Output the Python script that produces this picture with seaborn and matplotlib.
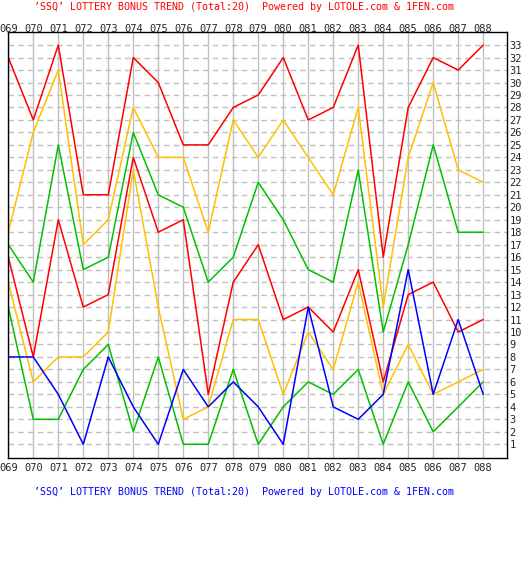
import numpy as np
import pandas as pd
import matplotlib
matplotlib.use("Agg")
import matplotlib.pyplot as plt
import seaborn as sns

# draw numbers 069..088
issues = ["069", "070", "071", "072", "073", "074", "075", "076", "077", "078",
          "079", "080", "081", "082", "083", "084", "085", "086", "087", "088"]

# red balls sorted small -> large, plus the blue ball
red1 = [12, 3, 3, 7, 9, 2, 8, 1, 1, 7, 1, 4, 6, 5, 7, 1, 6, 2, 4, 6]
red2 = [14, 6, 8, 8, 10, 23, 12, 3, 4, 11, 11, 5, 10, 7, 14, 5, 9, 5, 6, 7]
red3 = [16, 8, 19, 12, 13, 24, 18, 19, 5, 14, 17, 11, 12, 10, 15, 6, 13, 14, 10, 11]
red4 = [17, 14, 25, 15, 16, 26, 21, 20, 14, 16, 22, 19, 15, 14, 23, 10, 17, 25, 18, 18]
red5 = [18, 26, 31, 17, 19, 28, 24, 24, 18, 27, 24, 27, 24, 21, 28, 12, 24, 30, 23, 22]
red6 = [32, 27, 33, 21, 21, 32, 30, 25, 25, 28, 29, 32, 27, 28, 33, 16, 28, 32, 31, 33]
blue = [8, 8, 5, 1, 8, 4, 1, 7, 4, 6, 4, 1, 12, 4, 3, 5, 15, 5, 11, 5]

series = {"r1": red1, "r2": red2, "r3": red3, "r4": red4,
          "r5": red5, "r6": red6, "b": blue}
palette = {"r1": "#00c000", "r2": "#ffc000", "r3": "#ff0000", "r4": "#00c000",
           "r5": "#ffc000", "r6": "#ff0000", "b": "#0000ff"}

rows = []
for name, vals in series.items():
    for i, v in enumerate(vals):
        rows.append({"idx": i, "num": v, "ball": name})
df = pd.DataFrame(rows)

title = "\u2019SSQ\u2019 LOTTERY BONUS TREND (Total:20)  Powered by LOTOLE.com & 1FEN.com"

sns.set_style("white")
plt.rcParams["font.family"] = ["DejaVu Sans Mono"]

fig = plt.figure(figsize=(5.23, 5.65), dpi=100)
ax = fig.add_axes([8.3 / 523, 1 - 458 / 565, 498.4 / 523, 426 / 565])

# grid
for i in range(len(issues)):
    ax.axvline(i, color="#c0c0c0", lw=1.0, zorder=0)
for v in range(1, 34):
    ax.axhline(v, color="#c0c0c0", lw=1.0, ls=(0, (4, 3)), zorder=0)

sns.lineplot(data=df, x="idx", y="num", hue="ball", palette=palette,
             legend=False, lw=1.1, ax=ax, estimator=None, sort=False)

ax.set_xlim(0, 19.94)
ax.set_ylim(-0.1, 34.05)
ax.set_xlabel("")
ax.set_ylabel("")

ax.set_xticks(range(len(issues)))
ax.set_xticklabels(issues, fontsize=7.5)
ax.tick_params(axis="x", length=0, pad=3.5, top=False, bottom=False)

top = ax.secondary_xaxis("top")
top.set_xticks(range(len(issues)))
top.set_xticklabels(issues, fontsize=7.5)
top.tick_params(length=0, pad=-1.5)
top.spines["top"].set_visible(False)

ax.set_yticks(range(1, 34))
ax.set_yticklabels([str(v) for v in range(1, 34)], fontsize=7.5)
ax.yaxis.tick_right()
ax.tick_params(axis="y", length=0, pad=2)

for s in ax.spines.values():
    s.set_color("black")
    s.set_linewidth(1.0)

fig.text(244 / 523, 1 - 7 / 565, title, color="#ff0000", fontsize=7.2,
         ha="center", va="center")
fig.text(244 / 523, 1 - 492 / 565, title, color="#0000ff", fontsize=7.2,
         ha="center", va="center")

fig.savefig("out.png", dpi=100, facecolor="white")
